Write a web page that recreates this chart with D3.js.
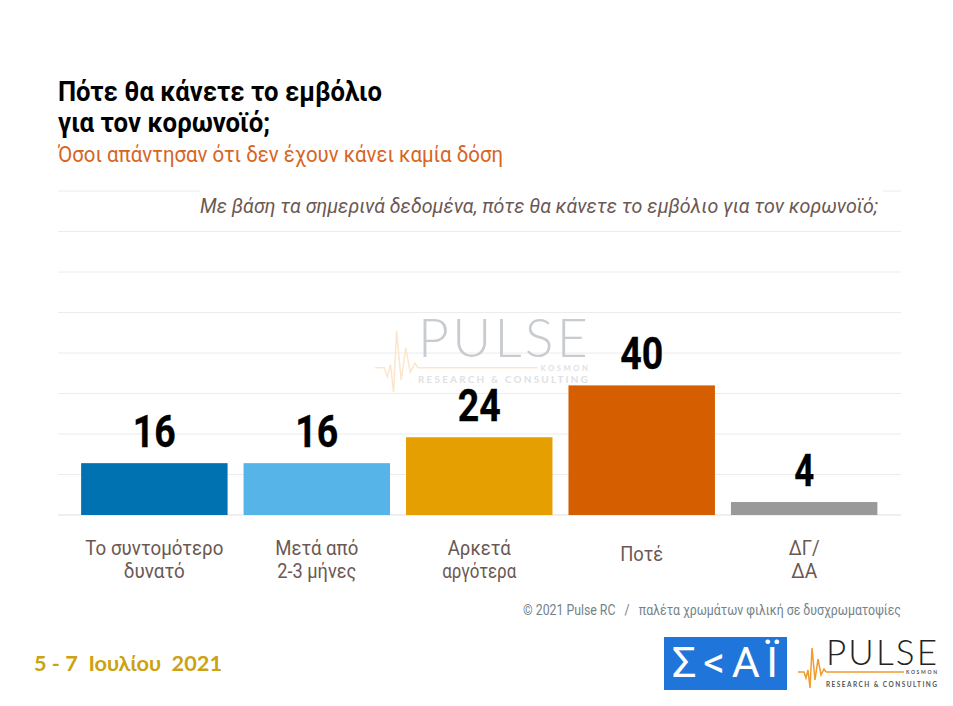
<!DOCTYPE html>
<html>
<head>
<meta charset="utf-8">
<script src="https://cdn.jsdelivr.net/npm/d3@7"></script>
<style>
html, body { margin: 0; padding: 0; background: #fff; overflow: hidden; }
svg { display: block; font-family: Roboto, sans-serif; }
</style>
</head>
<body>
<svg id="chart" width="953" height="706"></svg>
<script>
var categories = [["Το συντομότερο", "δυνατό"], ["Μετά από", "2-3 μήνες"], ["Αρκετά", "αργότερα"], ["Ποτέ"], ["ΔΓ/", "ΔΑ"]];
var values = [16, 16, 24, 40, 4];
var barColors = ["#0072b2", "#56b4e9", "#e69f00", "#d55e00", "#999999"];
var gridTicks = [0, 12.5, 25, 37.5, 50, 62.5, 75, 87.5, 100];
var pulseTrace = [[0, 0], [6, 0], [8, 6], [10, -2], [12, 16], [14, -24], [17, 8], [20, -13], [23, 3], [26, -3], [28, 0]];

var svg = d3.select("#chart");

// scales are fitted to the plot area of the slide
var x = d3.scaleBand().domain(d3.range(values.length)).range([73, 885.5]).paddingInner(0.0985).paddingOuter(0.05);
var y = d3.scaleLinear().domain([0, 100]).range([515, 191]);

// squeeze a text into the width it has on the slide (the fonts here have no condensed cut)
function label(g, str, px, py, size, weight, color, width, anchor, style) {
	var t = g.append("text").attr("x", px).attr("y", py).text(str)
		.style("font-size", size + "px").style("font-weight", weight).attr("fill", color)
		.attr("text-anchor", anchor || "start");
	if (style) t.style("font-style", style);
	if (width) t.attr("textLength", width).attr("lengthAdjust", "spacingAndGlyphs");
	return t;
}

// gridlines
svg.append("g").selectAll("line").data(gridTicks).enter().append("line")
	.attr("x1", 58).attr("x2", 901)
	.attr("y1", function(d) { return y(d); }).attr("y2", function(d) { return y(d); })
	.attr("stroke", function(d) { return d == 0 ? "#dfdfdf" : "#ececec"; }).attr("stroke-width", 1);

function pulseLogo(g, sc, mainColor, traceColor, subColor, subDy, traceWidth) {
	var l = g.append("g");
	label(l, "PULSE", 0, 0, 35 * sc, 300, mainColor, 111 * sc).style("font-family", "Lato").attr("lengthAdjust", "spacing");
	l.append("path")
		.attr("d", d3.line().x(function(d) { return (d[0] - 28) * sc; }).y(function(d) { return 7 * sc + d[1] * sc; })(pulseTrace))
		.attr("fill", "none").attr("stroke", traceColor).attr("stroke-width", traceWidth);
	l.append("line").attr("x1", 0).attr("x2", 78 * sc).attr("y1", 7 * sc).attr("y2", 7 * sc).attr("stroke", traceColor).attr("stroke-width", traceWidth);
	label(l, "KOSMON", 80 * sc, 9 * sc, 5 * sc, 700, subColor, 31 * sc).style("font-family", "Lato").attr("lengthAdjust", "spacing");
	label(l, "RESEARCH & CONSULTING", 0, subDy, 6.5 * sc, 700, subColor, 111 * sc).style("font-family", "Lato").attr("lengthAdjust", "spacing");
	return l;
}

// watermark behind the bars
pulseLogo(svg.append("g").attr("transform", "translate(418,357)"), 1.53, "#c8cbcf", "#fbe6cc", "#dfe1e3", 26, 1.5);

// bars
svg.append("g").selectAll("rect").data(values).enter().append("rect")
	.attr("x", function(d, i) { return x(i); })
	.attr("y", function(d) { return y(d); })
	.attr("width", x.bandwidth())
	.attr("height", function(d) { return y(0) - y(d); })
	.attr("fill", function(d, i) { return barColors[i]; });

// value labels
var valueG = svg.append("g");
values.forEach(function(d, i) {
	label(valueG, d, x(i) + x.bandwidth() / 2, y(d) - 16, 44, 700, "#000", d < 10 ? 20 : 43, "middle")
		.attr("stroke", "#000").attr("stroke-width", 0.3);
});

// category labels
var catG = svg.append("g");
var catWidths = [[138, 61], [83, 79], [63, 74], [43], [31, 26]];
categories.forEach(function(lines, i) {
	var cx = x(i) + x.bandwidth() / 2;
	if (lines.length == 1) {
		label(catG, lines[0], cx, 561, 21, 400, "#6b5853", catWidths[i][0], "middle");
	} else {
		label(catG, lines[0], cx, 555, 21, 400, "#6b5853", catWidths[i][0], "middle");
		label(catG, lines[1], cx, 578, 21, 400, "#6b5853", catWidths[i][1], "middle");
	}
});

// heading
label(svg, "Πότε θα κάνετε το εμβόλιο", 58, 101, 28, 700, "#000", 324);
label(svg, "για τον κορωνοϊό;", 58, 132, 28, 700, "#000", 212);
label(svg, "Όσοι απάντησαν ότι δεν έχουν κάνει καμία δόση", 58, 162, 22, 400, "#d8651f", 445);

// question box covers the top gridline
svg.append("rect").attr("x", 200).attr("y", 188).attr("width", 683).attr("height", 32).attr("fill", "#fff");
label(svg, "Με βάση τα σημερινά δεδομένα, πότε θα κάνετε το εμβόλιο για τον κορωνοϊό;", 200, 213, 21, 400, "#6b5853", 678, "start", "italic");

// footer
label(svg, "© 2021 Pulse RC\u00a0\u00a0\u00a0/\u00a0\u00a0\u00a0παλέτα χρωμάτων φιλική σε δυσχρωματοψίες", 523, 615, 14, 400, "#72838a", 378);
label(svg, "5 - 7\u00a0\u00a0Ιουλίου\u00a0\u00a02021", 34, 671, 20, 700, "#cba20f", 188).style("font-family", "Lato");

// logos
svg.append("rect").attr("x", 664).attr("y", 637).attr("width", 123).attr("height", 53).attr("fill", "#1f75d9");
label(svg, "Σ<ΑΪ", 672, 677, 43, 400, "#fff", 106).attr("lengthAdjust", "spacing");
pulseLogo(svg.append("g").attr("transform", "translate(826,665)"), 1, "#222", "#ef9b2d", "#555", 22, 1.5);
</script>
</body>
</html>
